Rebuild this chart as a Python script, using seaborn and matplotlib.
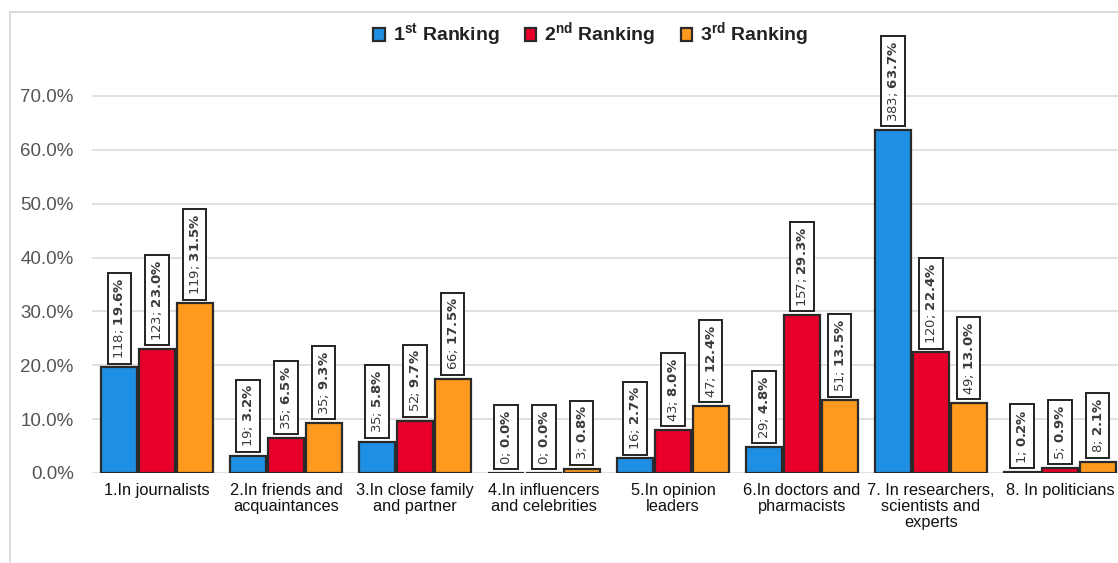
import matplotlib
matplotlib.use("Agg")
import matplotlib.pyplot as plt
from matplotlib.patches import Rectangle
import seaborn as sns
import pandas as pd

categories = [
    "1.In journalists",
    "2.In friends and\nacquaintances",
    "3.In close family\nand partner",
    "4.In influencers\nand celebrities",
    "5.In opinion\nleaders",
    "6.In doctors and\npharmacists",
    "7. In researchers,\nscientists and\nexperts",
    "8. In politicians",
]
rankings = [r"1$^{\mathrm{st}}$ Ranking", r"2$^{\mathrm{nd}}$ Ranking",
            r"3$^{\mathrm{rd}}$ Ranking"]

first_n = [118, 19, 35, 0, 16, 29, 383, 1]
first_pct = [19.6, 3.2, 5.8, 0.0, 2.7, 4.8, 63.7, 0.2]
second_n = [123, 35, 52, 0, 43, 157, 120, 5]
second_pct = [23.0, 6.5, 9.7, 0.0, 8.0, 29.3, 22.4, 0.9]
third_n = [119, 35, 66, 3, 47, 51, 49, 8]
third_pct = [31.5, 9.3, 17.5, 0.8, 12.4, 13.5, 13.0, 2.1]

colors = ["#1e8fe3", "#e8002b", "#ff9a1e"]
yticks = [0, 10, 20, 30, 40, 50, 60, 70]

rows = []
for rank, ns, ps in zip(rankings, [first_n, second_n, third_n],
                        [first_pct, second_pct, third_pct]):
    for cat, n, p in zip(categories, ns, ps):
        rows.append({"category": cat, "ranking": rank, "n": n, "pct": p})
df = pd.DataFrame(rows)

sns.set_theme(style="white")
plt.rcParams["font.family"] = ["Liberation Sans", "DejaVu Sans"]
plt.rcParams["mathtext.fontset"] = "custom"
plt.rcParams["mathtext.rm"] = "Liberation Sans:bold"
plt.rcParams["mathtext.bf"] = "DejaVu Sans:bold"

fig = plt.figure(figsize=(11.18, 5.63), dpi=100)
ax = fig.add_axes([0.0827, 0.1599, 0.9173, 0.8046])

# outer frame of the chart area
fig.patches.append(Rectangle((10 / 1118, -0.01), 1.2, 1 - 12 / 563 + 0.01,
                             transform=fig.transFigure, fill=False,
                             edgecolor="#d4d4d4", linewidth=1.2, zorder=0))

sns.barplot(data=df, x="category", y="pct", hue="ranking",
            hue_order=rankings, palette=colors, width=0.88, gap=0.06,
            edgecolor="#2a2a2a", linewidth=1.6, saturation=1,
            errorbar=None, ax=ax, zorder=3)

# rotated value boxes above each bar
for container, ns in zip(ax.containers, [first_n, second_n, third_n]):
    for bar, n in zip(container, ns):
        h = bar.get_height()
        xc = bar.get_x() + bar.get_width() / 2
        label = f"{n}; " + r"$\mathbf{" + f"{h:.1f}" + r"\%}$"
        ax.annotate(label, (xc, h), xytext=(0, 6), textcoords="offset points",
                    rotation=90, ha="center", va="bottom", fontsize=9.5,
                    color="#3a3a3a", family="DejaVu Sans", zorder=5,
                    bbox=dict(boxstyle="square,pad=0.35", facecolor="white",
                              edgecolor="#222222", linewidth=1.4))

ax.set_ylim(0, 84.1)
ax.set_xlim(-0.5, 7.45)
ax.set_yticks(yticks)
ax.set_yticklabels([f"{v:.1f}%" for v in yticks], color="#555555", fontsize=13.5)
ax.tick_params(axis="y", length=0, pad=13.5)
ax.tick_params(axis="x", length=0, pad=7, labelsize=11.8, labelcolor="#111111")
for t in ax.get_xticklabels():
    t.set_linespacing(1.1)
ax.grid(axis="y", color="#dcdcdc", linewidth=1.2, zorder=0)
ax.set_axisbelow(True)
ax.set_xlabel("")
ax.set_ylabel("")
for s in ax.spines.values():
    s.set_visible(False)

handles, labels = ax.get_legend_handles_labels()
leg = ax.legend(handles, labels, loc="center", bbox_to_anchor=(0.486, 0.967),
                ncol=3, frameon=False, handlelength=0.6, handleheight=0.6,
                handletextpad=0.4, columnspacing=1.3,
                prop={"size": 14, "weight": "bold"})
for t in leg.get_texts():
    t.set_color("#222222")

fig.savefig("out.png", dpi=100, facecolor="white")
